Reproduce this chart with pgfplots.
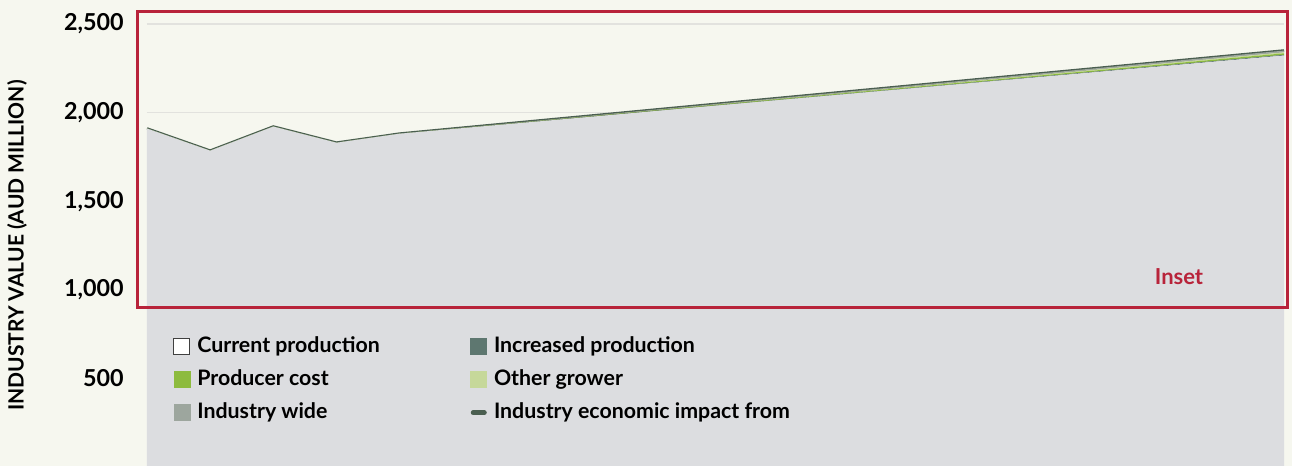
\documentclass[border=0pt]{standalone}
\usepackage{pgfplots}
\pgfplotsset{compat=1.18}
\usepackage{pgfplotstable}
\usepackage{fontspec}
\setmainfont{Lato}
\definecolor{bgc}{HTML}{F6F7EF}
\definecolor{curc}{HTML}{DCDDE0}
\definecolor{incc}{HTML}{5E7770}
\definecolor{prodc}{HTML}{8DBB3E}
\definecolor{othc}{HTML}{C6D89A}
\definecolor{widec}{HTML}{9DA69E}
\definecolor{linec}{HTML}{4A5E50}
\definecolor{redc}{HTML}{B8233A}
\definecolor{gridc}{HTML}{E2E2DE}
\pgfplotstableread{
i C inc prod oth wide z
0 1910 0 0 0 0 0
1 1785 0 0 0 0 0
2 1921 0 0 0 0 0
3 1830 0 0 0 0 0
4 1881 0 0 0 0 0
5 1912.5 0.3 0.6 0.4 0.7 0
6 1944 0.6 1.2 0.8 1.4 0
7 1975.5 0.9 1.8 1.2 2.1 0
8 2007 1.2 2.4 1.6 2.8 0
9 2038.5 1.5 3.0 2.0 3.5 0
10 2070 1.8 3.6 2.4 4.2 0
11 2101.5 2.1 4.2 2.8 4.9 0
12 2133 2.4 4.8 3.2 5.6 0
13 2164.5 2.7 5.4 3.6 6.3 0
14 2196 3.0 6.0 4.0 7.0 0
15 2227.5 3.3 6.6 4.4 7.7 0
16 2259 3.6 7.2 4.8 8.4 0
17 2290.5 3.9 7.8 5.2 9.1 0
18 2322 4.2 8.4 5.6 9.8 0
}\datatab
\begin{document}
\begin{tikzpicture}
\useasboundingbox (0,0) rectangle (969pt,349.5pt);
\clip (0,0) rectangle (969pt,349.5pt);
\fill[bgc] (0,0) rectangle (969pt,349.5pt);
\begin{axis}[
  at={(110.25pt,-0.75pt)}, anchor=south west,
  scale only axis, width=852.75pt, height=332.25pt,
  xmin=0, xmax=18, ymin=0, ymax=2500,
  axis line style={draw=none},
  major tick length=0pt,
  stack plots=y,
  xtick=\empty,
  ytick={500,1000,1500,2000,2500},
  ymajorgrids, grid style={gridc, line width=1pt},
  /pgf/number format/.cd, 1000 sep={,}, assume math mode=true,
  /pgfplots/.cd,
  yticklabel style={font=\bfseries\fontsize{17.5}{19}\selectfont, text=black, anchor=east, xshift=-14pt},
  ylabel={INDUSTRY VALUE (AUD MILLION)},
  ylabel style={at={(rel axis cs:0,0.5)}, anchor=center, yshift=97.5pt, font=\bfseries\fontsize{15.75}{17}\selectfont},
  legend columns=2,
  legend cell align=left,
  legend style={at={(rel axis cs:0.0229,0.294)}, anchor=north west, draw=none, fill=none, inner sep=0pt,
    font=\bfseries\fontsize{16}{18}\selectfont,
    nodes={inner sep=0pt, text height=11.5pt, text depth=3pt},
    row sep=10.25pt, column sep=5.25pt,
    /tikz/column 2/.style={column sep=68pt}},
]
\addlegendimage{legend image code/.code={\draw[draw=black!75, fill=white, line width=0.8pt] (0pt,-6pt) rectangle (12pt,6pt);}}
\addlegendentry{Current production}
\addlegendimage{legend image code/.code={\fill[incc] (0pt,-6pt) rectangle (12pt,6pt);}}
\addlegendentry{Increased production}
\addlegendimage{legend image code/.code={\fill[prodc] (0pt,-6pt) rectangle (12pt,6pt);}}
\addlegendentry{Producer cost}
\addlegendimage{legend image code/.code={\fill[othc] (0pt,-6pt) rectangle (12pt,6pt);}}
\addlegendentry{Other grower}
\addlegendimage{legend image code/.code={\fill[widec] (0pt,-6pt) rectangle (12pt,6pt);}}
\addlegendentry{Industry wide}
\addlegendimage{legend image code/.code={\draw[linec, line width=3.5pt, line cap=round] (1.75pt,0pt) -- (10.25pt,0pt);}}
\addlegendentry{Industry economic impact from}
\addplot[fill=curc, draw=none, forget plot] table[x=i,y=C] {\datatab} \closedcycle;
\addplot[fill=incc, draw=none, forget plot] table[x=i,y=inc] {\datatab} \closedcycle;
\addplot[fill=prodc, draw=none, forget plot] table[x=i,y=prod] {\datatab} \closedcycle;
\addplot[fill=othc, draw=none, forget plot] table[x=i,y=oth] {\datatab} \closedcycle;
\addplot[fill=widec, draw=none, forget plot] table[x=i,y=wide] {\datatab} \closedcycle;
\addplot[draw=linec, line width=2pt, forget plot] table[x=i,y=z] {\datatab};
\end{axis}
\draw[redc, line width=2.25pt] (102.75pt,340.5pt) rectangle (965.25pt,118.5pt);
\node[text=redc, font=\bfseries\fontsize{16.5}{18}\selectfont] at (884.25pt,141.75pt) {Inset};
\end{tikzpicture}
\end{document}
